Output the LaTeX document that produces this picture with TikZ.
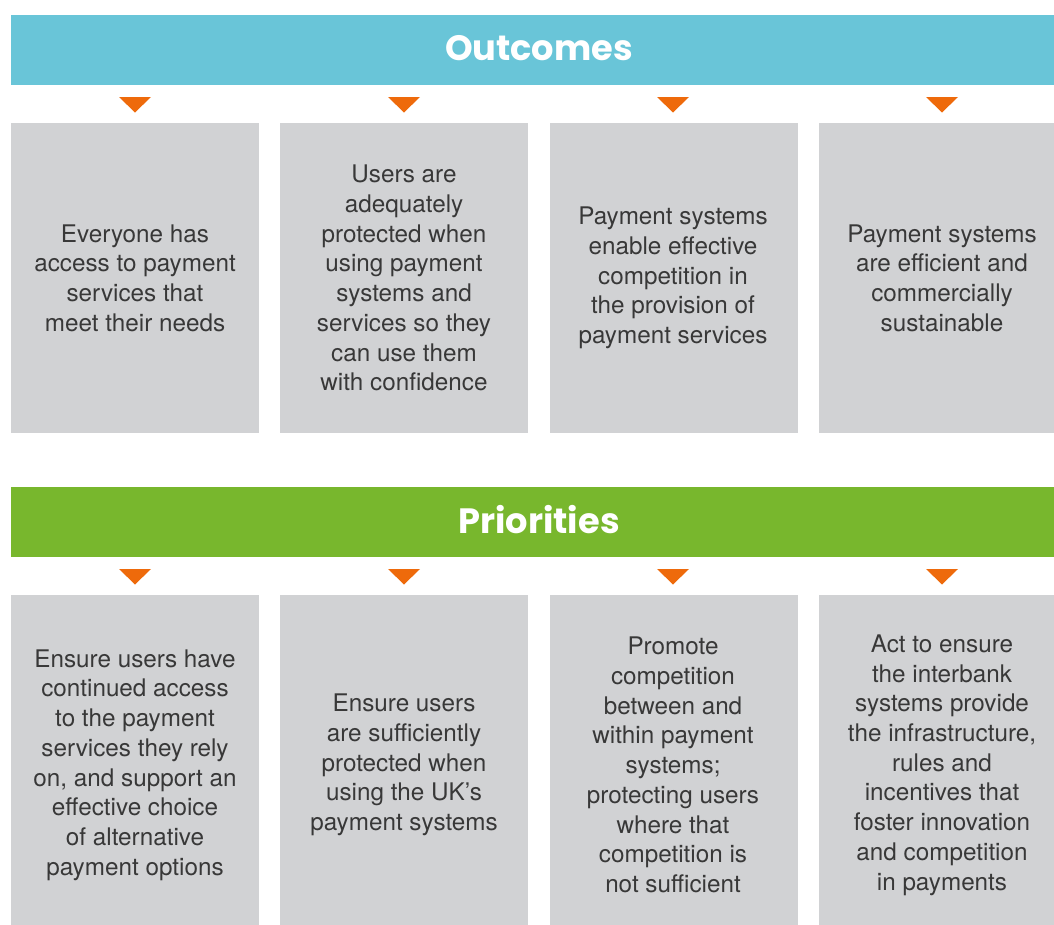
\documentclass[tikz,border=0pt]{standalone}
\usepackage{fontspec}
\setmainfont{TeX Gyre Heros}
\newfontfamily\headfont{Poppins}

\definecolor{outcomeBlue}{HTML}{69C5D8}
\definecolor{priorityGreen}{HTML}{78B72D}
\definecolor{pointerOrange}{HTML}{EE6A0B}
\definecolor{boxGrey}{HTML}{D1D2D4}
\definecolor{bodyText}{HTML}{383838}

\tikzset{every picture/.style={line width=0.75pt}}
\tikzset{
  bar title/.style={inner sep=0.75pt, text=white, font=\headfont\bfseries\fontsize{26.4}{31}\selectfont},
  box text/.style={inner sep=0.75pt, align=center, text=bodyText, font=\fontsize{18.2}{22.3}\selectfont},
  pointer/.style={fill=pointerOrange, draw=none},
}

\begin{document}
\begin{tikzpicture}[x=0.75pt,y=0.75pt,yscale=-1,xscale=1]
%set diagram left start at 0, and has height of 925
\useasboundingbox (0,0) rectangle (1054,925);

%Shape: Rectangle [id:outcomes bar]
\fill [outcomeBlue] (11,15) rectangle (1054,85) ;
%Shape: Rectangle [id:priorities bar]
\fill [priorityGreen] (11,487) rectangle (1054,557) ;

%Shape: Triangle [id:pointers, top row]
\fill [pointer] (119,97) -- (151,97) -- (135,112.5) -- cycle ;
\fill [pointer] (388,97) -- (420,97) -- (404,112.5) -- cycle ;
\fill [pointer] (657,97) -- (689,97) -- (673,112.5) -- cycle ;
\fill [pointer] (926,97) -- (958,97) -- (942,112.5) -- cycle ;
%Shape: Triangle [id:pointers, bottom row]
\fill [pointer] (119,569) -- (151,569) -- (135,584.5) -- cycle ;
\fill [pointer] (388,569) -- (420,569) -- (404,584.5) -- cycle ;
\fill [pointer] (657,569) -- (689,569) -- (673,584.5) -- cycle ;
\fill [pointer] (926,569) -- (958,569) -- (942,584.5) -- cycle ;

%Shape: Rectangle [id:outcome boxes]
\fill [boxGrey] (11,123) rectangle (259,433) ;
\fill [boxGrey] (280,123) rectangle (528,433) ;
\fill [boxGrey] (549.5,123) rectangle (797.5,433) ;
\fill [boxGrey] (819,123) rectangle (1054,433) ;
%Shape: Rectangle [id:priority boxes]
\fill [boxGrey] (11,595) rectangle (259,925) ;
\fill [boxGrey] (280,595) rectangle (528,925) ;
\fill [boxGrey] (549.5,595) rectangle (797.5,925) ;
\fill [boxGrey] (819,595) rectangle (1054,925) ;

% Text Node
\draw (539,48) node [bar title] (outcomes) {Outcomes};
% Text Node
\draw (539,520) node [bar title] (priorities) {Priorities};

% Text Node
\draw (135,278) node [box text] (access) {Everyone has\\access to payment\\services that\\meet their needs};
% Text Node
\draw (404,278) node [box text] (protected) {Users are\\adequately\\protected when\\using payment\\systems and\\services so they\\can use them\\with confidence};
% Text Node
\draw (673,278) node [box text] (competition) {Payment systems\\enable effective\\competition in\\the provision of\\payment services};
% Text Node
\draw (942,278) node [box text] (efficient) {Payment systems\\are efficient and\\commercially\\sustainable};

% Text Node
\draw (135,765) node [box text] (continued) {Ensure users have\\continued access\\to the payment\\services they rely\\on, and support an\\effective choice\\of alternative\\payment options};
% Text Node
\draw (404,765) node [box text] (sufficiently) {Ensure users\\are sufficiently\\protected when\\using the UK’s\\payment systems};
% Text Node
\draw (673,765) node [box text] (promote) {Promote\\competition\\between and\\within payment\\systems;\\protecting users\\where that\\competition is\\not sufficient};
% Text Node
\draw (942,765) node [box text] (interbank) {Act to ensure\\the interbank\\systems provide\\the infrastructure,\\rules and\\incentives that\\foster innovation\\and competition\\in payments};

\end{tikzpicture}
\end{document}
